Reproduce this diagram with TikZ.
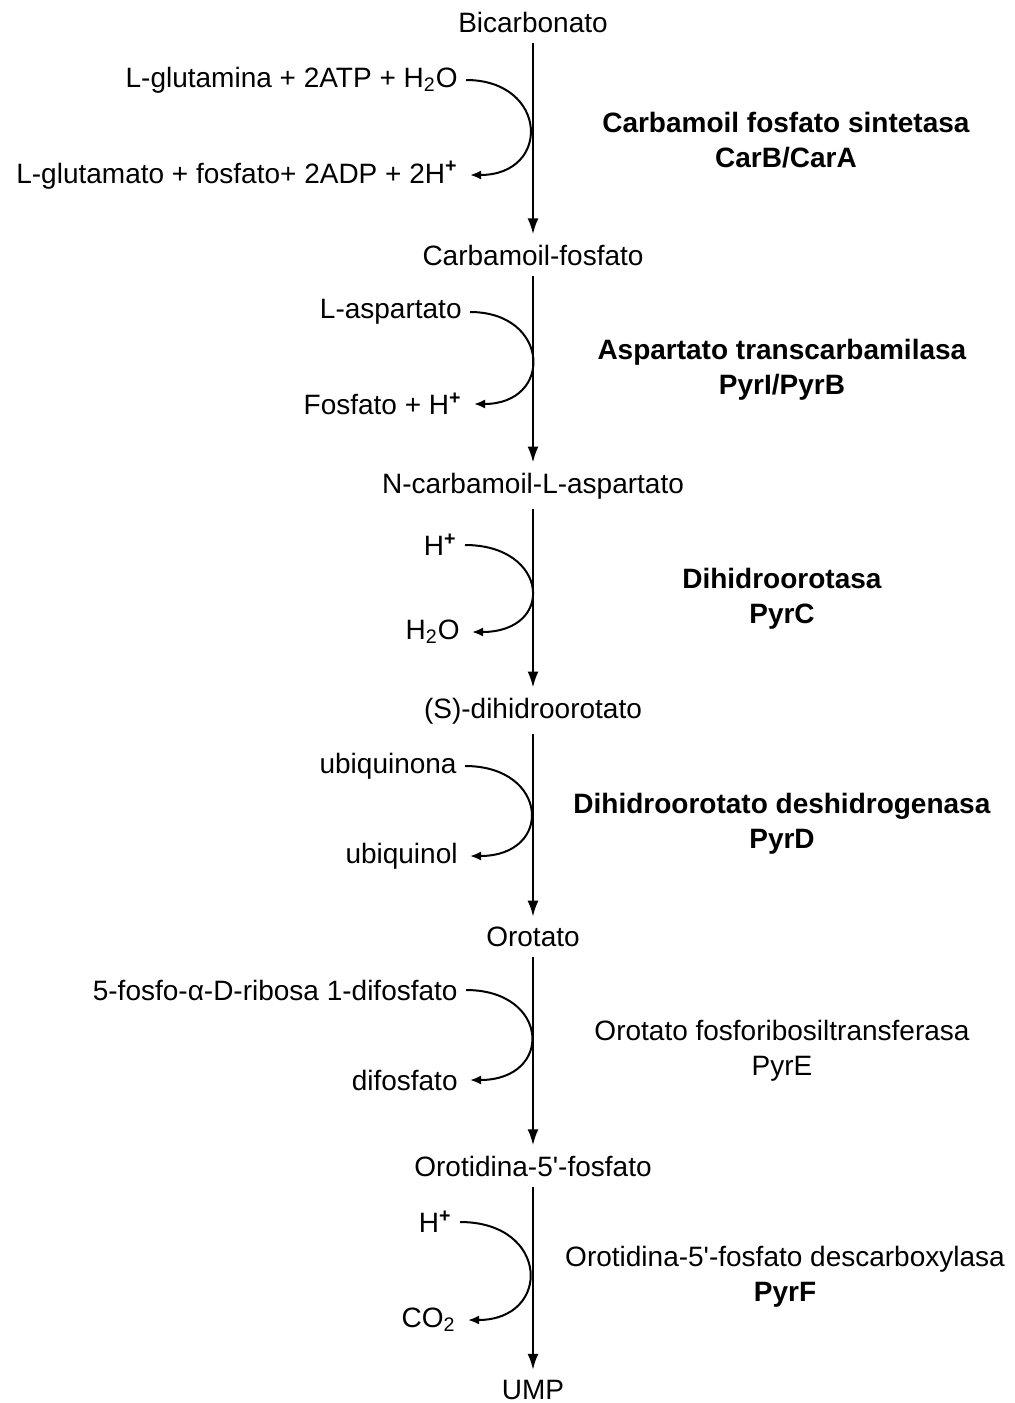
\documentclass[tikz,border=0pt]{standalone}
\usepackage{fontspec}
\setmainfont{Liberation Sans}
\usetikzlibrary{arrows.meta}

\begin{document}
\begin{tikzpicture}[x=0.5pt, y=-0.5pt,
    cpd/.style={font=\fontsize{14}{17}\selectfont, inner sep=0pt},
    side/.style={cpd, anchor=east},
    enz/.style={font=\fontsize{14}{17.5}\selectfont, align=center},
    rxn/.style={-{Latex[length=8pt,width=5.5pt]}, line width=1.1pt, shorten <=5pt, shorten >=5pt},
    cof/.style={-{Latex[length=5.5pt,width=4.5pt]}, line width=1pt}
]
\useasboundingbox (0,0) rectangle (1014,1403);

% Main pathway
\node[cpd] (bic) at (533,22) {Bicarbonato};
\node[cpd] (cp) at (533,255) {Carbamoil-fosfato};
\node[cpd] (nca) at (533,486) {N-carbamoil-L-aspartato};
\node[cpd] (dho) at (533,711) {(S)-dihidroorotato};
\node[cpd] (oro) at (533,937) {Orotato};
\node[cpd] (omp) at (533,1166) {Orotidina-5\textquotesingle-fosfato};
\node[cpd] (ump) at (533,1390) {UMP};

\draw[rxn] (bic) -- (cp);
\draw[rxn] (cp) -- (nca);
\draw[rxn] (nca) -- (dho);
\draw[rxn] (dho) -- (oro);
\draw[rxn] (oro) -- (omp);
\draw[rxn] (omp) -- (ump);

% Co-substrates and co-products
\node[side] (in1) at (458,80) {L-glutamina + 2ATP + H\textsubscript{2}O};
\node[side] (out1) at (458,175) {L-glutamato + fosfato+ 2ADP + 2H\textsuperscript{\textbf{+}}};
\node[side] (in2) at (462,312) {L-aspartato};
\node[side] (out2) at (462,404) {Fosfato + H\textsuperscript{\textbf{+}}};
\node[side] (in3) at (457,545) {H\textsuperscript{\textbf{+}}};
\node[side] (out3) at (460,632) {H\textsubscript{2}O};
\node[side] (in4) at (457,766) {ubiquinona};
\node[side] (out4) at (458,856) {ubiquinol};
\node[side] (in5) at (458,990) {5-fosfo-α-D-ribosa 1-difosfato};
\node[side] (out5) at (458,1080) {difosfato};
\node[side] (in6) at (452,1222) {H\textsuperscript{\textbf{+}}};
\node[side] (out6) at (456,1320) {CO\textsubscript{2}};

\draw[cof] ([xshift=4pt]in1.east) .. controls +(82,0) and +(82,0) .. ([xshift=6pt]out1.east);
\draw[cof] ([xshift=4pt]in2.east) .. controls +(80,0) and +(80,0) .. ([xshift=6pt]out2.east);
\draw[cof] ([xshift=4pt]in3.east) .. controls +(84,0) and +(84,0) .. ([xshift=6pt]out3.east);
\draw[cof] ([xshift=4pt]in4.east) .. controls +(84,0) and +(84,0) .. ([xshift=6pt]out4.east);
\draw[cof] ([xshift=4pt]in5.east) .. controls +(84,0) and +(84,0) .. ([xshift=6pt]out5.east);
\draw[cof] ([xshift=4pt]in6.east) .. controls +(90,0) and +(84,0) .. ([xshift=6pt]out6.east);

% Enzymes
\node[enz] (e1) at (786,140) {\textbf{Carbamoil fosfato sintetasa}\\\textbf{CarB/CarA}};
\node[enz] (e2) at (782,370) {\textbf{Aspartato transcarbamilasa}\\\textbf{PyrI/PyrB}};
\node[enz] (e3) at (782,599) {\textbf{Dihidroorotasa}\\\textbf{PyrC}};
\node[enz] (e4) at (782,824) {\textbf{Dihidroorotato deshidrogenasa}\\\textbf{PyrD}};
\node[enz] (e5) at (782,1051) {Orotato fosforibosiltransferasa\\PyrE};
\node[enz] (e6) at (785,1277) {Orotidina-5\textquotesingle-fosfato descarboxylasa\\\textbf{PyrF}};

\end{tikzpicture}
\end{document}
